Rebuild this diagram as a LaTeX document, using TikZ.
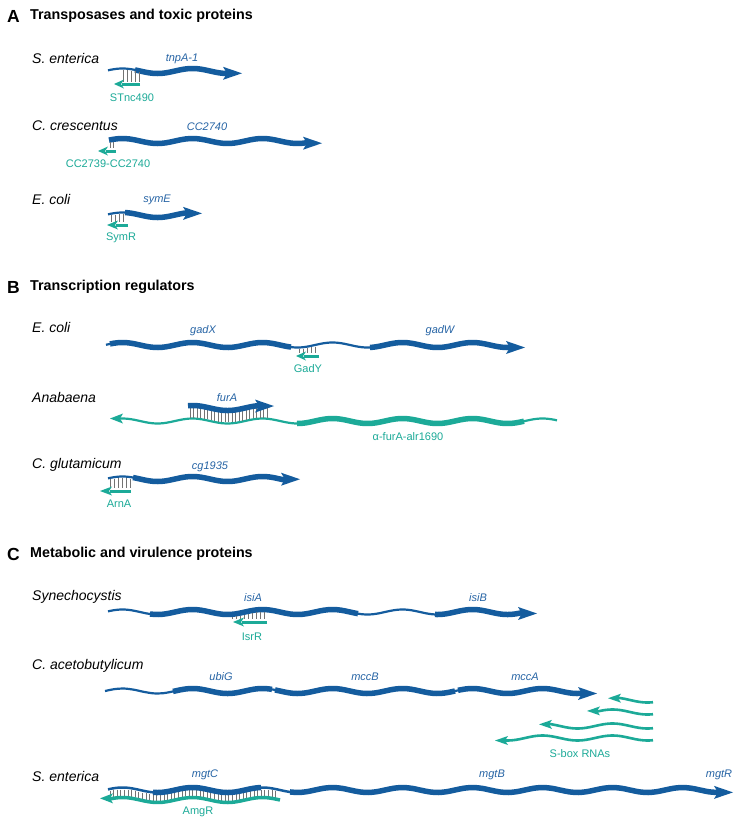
\documentclass[tikz,border=0pt]{standalone}
\usepackage{fontspec}
\setmainfont{Liberation Sans}
\definecolor{gblue}{RGB}{20,92,158}
\definecolor{glab}{RGB}{38,100,165}
\definecolor{rteal}{RGB}{28,170,152}
\definecolor{tk}{RGB}{115,115,115}
\tikzset{
  declare function={wy(\wa,\wb)=\wb+2.5*sin(\wa*5.142857);},
  species/.style={anchor=west,font=\fontsize{14}{16}\selectfont\itshape,inner sep=0pt},
  ptitle/.style={anchor=west,font=\fontsize{14.3}{16}\selectfont\bfseries,inner sep=0pt},
  pletter/.style={anchor=west,font=\fontsize{17.5}{19}\selectfont\bfseries,inner sep=0pt},
  gene/.style={font=\fontsize{11}{13}\selectfont\itshape,text=glab,inner sep=0pt},
  rna/.style={font=\fontsize{11}{13}\selectfont,text=rteal,inner sep=0pt},
  tick/.style={draw=tk,line width=0.8pt},
}
% wavy segment: x1, x2, y, width, colour
\newcommand{\wseg}[5]{\draw[#5,line width=#4] plot[domain=#1:#2,samples=50,smooth] (\x,{wy(\x,#3)});}
% right-pointing head on a wave: tip x, y, colour (base = tip-19)
\newcommand{\headR}[3]{\fill[#3] ({#1-19},{wy(#1-19,#2)-6.5}) -- (#1,{wy(#1-19,#2)}) -- ({#1-19},{wy(#1-19,#2)+6.5}) -- ({#1-15},{wy(#1-19,#2)}) -- cycle;}
% left-pointing teal head on a wave: tip x, y, half width (base = tip+13)
\newcommand{\headL}[3]{\fill[rteal] ({#1+13},{wy(#1+13,#2)-#3}) -- (#1,{wy(#1+13,#2)}) -- ({#1+13},{wy(#1+13,#2)+#3}) -- ({#1+10},{wy(#1+13,#2)}) -- cycle;}
% straight left-pointing teal head: base x, tip x, y
\newcommand{\sheadL}[3]{\fill[rteal] ({#1+1},{#3-4.5}) -- (#2,#3) -- ({#1+1},{#3+4.5}) -- ({#1-2},#3) -- cycle;}
\begin{document}
\begin{tikzpicture}[x=1pt,y=-1pt]
\useasboundingbox (0,0) rectangle (739,825);
\fill[white] (0,0) rectangle (739,825);

% ================= Panel A
\node[pletter] (lA) at (7,16) {A};
\node[ptitle] (tA) at (30,16) {Transposases and toxic proteins};

\node[species] (sA1) at (32,58) {S. enterica};
\node[gene] (gtnp) at (182,59) {tnpA-1};
\wseg{108}{136}{71}{2.2}{gblue}
\wseg{135}{227}{71}{5.5}{gblue}
\headR{242}{71}{gblue}
\foreach \k in {123,127,...,139} \draw[tick] (\k,{wy(\k,71)+1.5}) -- (\k,82);
\draw[rteal,line width=3] (140,84) -- (122,84);
\sheadL{123}{114}{84}
\node[rna] (rST) at (132,98) {STnc490};

\node[species] (sA2) at (32,126) {C. crescentus};
\node[gene] (gCC) at (207,127) {CC2740};
\wseg{109}{307}{141}{5.5}{gblue}
\headR{322}{141}{gblue}
\foreach \k in {110,113} \draw[tick] (\k,{wy(\k,141)+2.5}) -- (\k,148);
\draw[rteal,line width=3] (116,151) -- (106,151);
\sheadL{107}{98}{151}
\node[rna] (rCC) at (108,164) {CC2739-CC2740};

\node[species] (sA3) at (32,199) {E. coli};
\node[gene] (gsym) at (157,200) {symE};
\wseg{108}{126}{215}{2.2}{gblue}
\wseg{125}{187}{215}{5.5}{gblue}
\headR{202}{215}{gblue}
\foreach \k in {111,115,...,124} \draw[tick] (\k,{wy(\k,215)+1.5}) -- (\k,222);
\draw[rteal,line width=3] (128,225) -- (116,225);
\sheadL{117}{107}{225}
\node[rna] (rSym) at (121,238) {SymR};

% ================= Panel B
\node[pletter] (lB) at (7,287) {B};
\node[ptitle] (tB) at (30,287) {Transcription regulators};

\node[species] (sB1) at (32,327) {E. coli};
\node[gene] (ggadX) at (203,331) {gadX};
\node[gene] (ggadW) at (440,331) {gadW};
\wseg{106}{111}{345}{2.2}{gblue}
\wseg{110}{291}{345}{5.5}{gblue}
\wseg{290}{371}{345}{2.2}{gblue}
\wseg{370}{510}{345}{5.5}{gblue}
\headR{525}{345}{gblue}
\foreach \k in {299,303,...,317} \draw[tick] (\k,{wy(\k,345)+1.5}) -- (\k,353);
\draw[rteal,line width=3] (319,356) -- (304,356);
\sheadL{305}{296}{356}
\node[rna] (rGadY) at (308,369) {GadY};

\node[species] (sB2) at (32,397) {Anabaena};
\node[gene] (gfur) at (227,398) {furA};
\wseg{120}{298}{421}{2.2}{rteal}
\wseg{297}{524}{421}{5.5}{rteal}
\wseg{523}{557}{421}{2.2}{rteal}
\headL{110}{421}{5}
\foreach \k in {190,193.5,...,270} \draw[tick] (\k,{wy(\k,408)+2.5}) -- (\k,{wy(\k,421)-1});
\wseg{188}{259}{408}{5.5}{gblue}
\headR{274}{408}{gblue}
\node[rna] (ralpha) at (408,437) {α-furA-alr1690};

\node[species] (sB3) at (32,465) {C. glutamicum};
\node[gene] (gcg) at (210,467) {cg1935};
\wseg{108}{134}{479}{2.2}{gblue}
\wseg{133}{285}{479}{5.5}{gblue}
\headR{300}{479}{gblue}
\foreach \k in {110,114,...,130} \draw[tick] (\k,{wy(\k,479)+1.5}) -- (\k,488);
\draw[rteal,line width=3] (131,491) -- (110,491);
\sheadL{111}{100}{491}
\node[rna] (rArn) at (119,504) {ArnA};

% ================= Panel C
\node[pletter] (lC) at (7,554) {C};
\node[ptitle] (tC) at (30,554) {Metabolic and virulence proteins};

\node[species] (sC1) at (32,597) {Synechocystis};
\node[gene] (gisiA) at (253,598) {isiA};
\node[gene] (gisiB) at (478,598) {isiB};
\wseg{108}{151}{612}{2.2}{gblue}
\wseg{150}{358}{612}{5.5}{gblue}
\wseg{357}{436}{612}{2.2}{gblue}
\wseg{435}{522}{612}{5.5}{gblue}
\headR{537}{612}{gblue}
\foreach \k in {232,236,...,266} \draw[tick] (\k,{wy(\k,612)+2.5}) -- (\k,619);
\draw[rteal,line width=3] (267,622) -- (242,622);
\sheadL{243}{233}{622}
\node[rna] (rIsr) at (252,637) {IsrR};

\node[species] (sC2) at (32,666) {C. acetobutylicum};
\node[gene] (gubi) at (221,677) {ubiG};
\node[gene] (gmccB) at (365,677) {mccB};
\node[gene] (gmccA) at (525,677) {mccA};
\wseg{105}{582}{691}{2.2}{gblue}
\wseg{173}{272}{691}{5.5}{gblue}
\wseg{275}{455}{691}{5.5}{gblue}
\wseg{458}{582}{691}{5.5}{gblue}
\headR{597}{691}{gblue}
% S-box RNAs
\wseg{618}{653}{700}{2.6}{rteal}
\headL{608}{700}{4.5}
\wseg{597}{653}{712}{2.6}{rteal}
\headL{587}{712}{4.5}
\wseg{549}{653}{726}{2.6}{rteal}
\headL{539}{726}{4.5}
\wseg{505}{653}{738}{2.6}{rteal}
\headL{495}{738}{4.5}
\node[rna] (rSbox) at (580,754) {S-box RNAs};

\node[species] (sC3) at (32,776) {S. enterica};
\node[gene] (gmgtC) at (205,775) {mgtC};
\node[gene] (gmgtB) at (492,775) {mgtB};
\node[gene] (gmgtR) at (719,775) {mgtR};
\foreach \k in {110,113.6,...,278} \draw[tick] (\k,{wy(\k,790)+2}) -- (\k,{wy(\k,800)-1.5});
\wseg{108}{154}{790}{2.5}{gblue}
\wseg{153}{261}{790}{5.5}{gblue}
\wseg{260}{291}{790}{2.5}{gblue}
\wseg{290}{718}{790}{5.5}{gblue}
\headR{733}{790}{gblue}
\wseg{110}{280}{800}{3.5}{rteal}
\headL{100}{800}{5}
\node[rna] (rAmg) at (198,812) {AmgR};
\end{tikzpicture}
\end{document}
